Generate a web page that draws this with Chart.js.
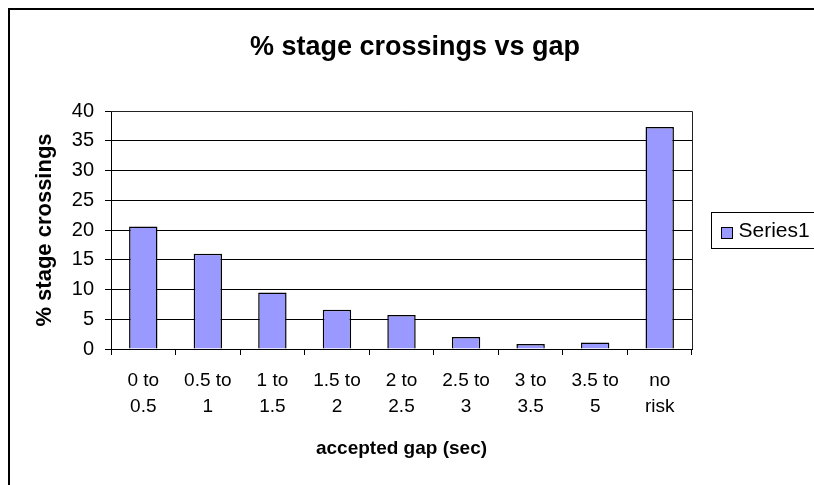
<!DOCTYPE html>
<html>
<head>
<meta charset="utf-8">
<script src="https://cdn.jsdelivr.net/npm/chart.js@4"></script>
<style>
  html, body { margin: 0; padding: 0; background: #fff; overflow: hidden; }
  #wrap { position: relative; width: 814px; height: 485px; }
</style>
</head>
<body>
<div id="wrap"><canvas id="chart1" width="814" height="485"></canvas></div>
<script>
// Data
const categories = [
    ['0 to', '0.5'], ['0.5 to', '1'], ['1 to', '1.5'], ['1.5 to', '2'], ['2 to', '2.5'],
    ['2.5 to', '3'], ['3 to', '3.5'], ['3.5 to', '5'], ['no', 'risk']
]
const series1 = [20.6, 16.0, 9.5, 6.6, 5.7, 2.0, 0.85, 1.1, 37.3]
const y_ticks = [0, 5, 10, 15, 20, 25, 30, 35, 40]
const chart_title = '% stage crossings vs gap'

const font_family = 'Arial, "Liberation Sans", Helvetica, sans-serif'
const bar_fill = 'rgb(153,153,255)'

// outer frame, plot box, title and legend (Excel style)
const excel_frame = {
    id: 'excel_frame',
    beforeDraw(chart) {
        const ctx = chart.ctx
        ctx.save()
        ctx.fillStyle = '#fff'
        ctx.fillRect(0, 0, chart.width, chart.height)
        ctx.strokeStyle = '#000'
        ctx.lineWidth = 2
        ctx.beginPath()
        ctx.moveTo(9, chart.height + 5)
        ctx.lineTo(9, 9)
        ctx.lineTo(chart.width + 5, 9)
        ctx.stroke()
        ctx.restore()
    },
    afterDraw(chart) {
        const ctx = chart.ctx
        const a = chart.chartArea
        ctx.save()
        ctx.strokeStyle = '#222'
        ctx.lineWidth = 1
        ctx.beginPath()
        ctx.moveTo(a.left, a.top + 0.5)
        ctx.lineTo(a.right + 0.5, a.top + 0.5)
        ctx.lineTo(a.right + 0.5, a.bottom)
        ctx.stroke()

        // title
        ctx.fillStyle = '#000'
        ctx.font = 'bold 27px ' + font_family
        ctx.textAlign = 'center'
        ctx.textBaseline = 'middle'
        ctx.fillText(chart_title, 415, 48)

        // legend
        const ds = chart.data.datasets[0]
        const lx = 711.5, ly = 212.5, lw = 110, lh = 36
        ctx.strokeStyle = '#000'
        ctx.strokeRect(lx, ly, lw, lh)
        ctx.fillStyle = ds.backgroundColor
        ctx.fillRect(lx + 10, ly + 15, 11, 11)
        ctx.strokeRect(lx + 10, ly + 15, 11, 11)
        ctx.fillStyle = '#000'
        ctx.font = '21px ' + font_family
        ctx.textAlign = 'left'
        ctx.fillText(ds.label, lx + 27, ly + lh / 2 + 1)
        ctx.restore()
    }
}

const config = {
    type: 'bar',
    data: {
        labels: categories,
        datasets: [{
            label: 'Series1',
            data: series1,
            backgroundColor: bar_fill,
            borderColor: '#000',
            borderWidth: 1.5,
            barPercentage: 0.44,
            categoryPercentage: 1
        }]
    },
    options: {
        responsive: false,
        animation: false,
        layout: { padding: { left: 20, right: 122, top: 111, bottom: 10 } },
        plugins: {
            legend: { display: false },
            tooltip: { enabled: false },
            title: { display: false }
        },
        scales: {
            x: {
                grid: { offset: true, drawOnChartArea: false, drawTicks: true, tickLength: 6, color: '#000' },
                border: { color: '#000', width: 1 },
                ticks: {
                    color: '#000',
                    font: { family: font_family, size: 19, lineHeight: 1.37 },
                    maxRotation: 0,
                    autoSkip: false,
                    padding: 13
                },
                title: {
                    display: true,
                    text: 'accepted gap (sec)',
                    color: '#000',
                    font: { family: font_family, size: 19, weight: 'bold' },
                    padding: { top: 0, bottom: 15 }
                },
                afterFit: s => { s.height = 126 }
            },
            y: {
                min: 0,
                max: 40,
                afterBuildTicks: s => { s.ticks = y_ticks.map(v => ({ value: v })) },
                grid: { color: '#000', tickLength: 6 },
                border: { color: '#000', width: 1 },
                ticks: {
                    color: '#000',
                    font: { family: font_family, size: 20 },
                    padding: 11
                },
                title: {
                    display: true,
                    text: '% stage crossings',
                    color: '#000',
                    font: { family: font_family, size: 22, weight: 'bold' },
                    padding: { top: 12, bottom: 0 }
                },
                afterFit: s => { s.width = 91 }
            }
        }
    },
    plugins: [excel_frame]
}

const bar_chart = new Chart(document.getElementById('chart1'), config)
</script>
</body>
</html>
